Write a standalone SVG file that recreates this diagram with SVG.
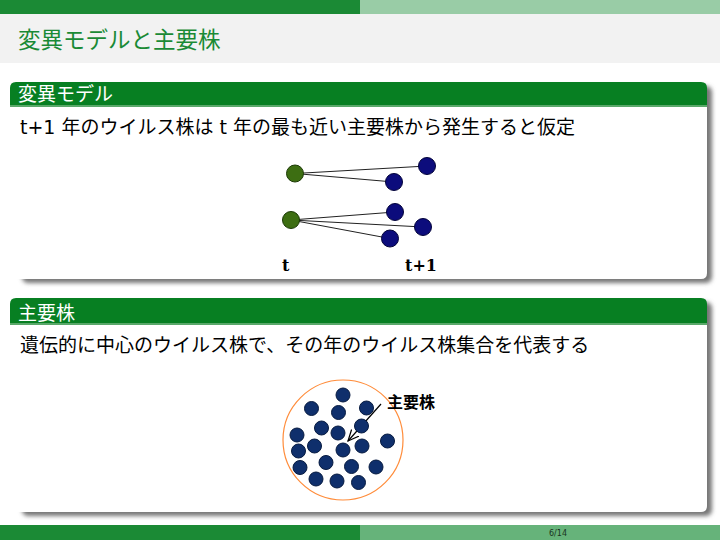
<svg xmlns="http://www.w3.org/2000/svg" width="720" height="540" viewBox="0 0 720 540">
<style>
.jp{font-family:"DejaVu Sans","Noto Sans CJK JP",sans-serif;}
.ttl{font-size:22.5px;fill:#1a8a35;}
.btl{font-size:19px;fill:#ffffff;}
.body{font-size:19px;fill:#000000;}
.lbl{font-family:"DejaVu Serif","Liberation Serif",serif;font-weight:bold;font-size:16px;fill:#000;}
.bar{fill:#077f22;}
.bodybox{fill:#ffffff;}
.shadow{fill:#777777;filter:url(#blur);}
.gnode{fill:#3d6e12;stroke:#1c3a06;stroke-width:1;}
.bnode{fill:#0c0c7c;stroke:#03033a;stroke-width:1;}
.dot{fill:#0f2f6c;stroke:#061a40;stroke-width:1;}
.edge{stroke:#222;stroke-width:1;fill:none;}
</style>
<defs>
<filter id="blur" x="-5%" y="-5%" width="110%" height="110%"><feGaussianBlur stdDeviation="2"/></filter>
<marker id="vhead" viewBox="0 0 12 12" refX="11" refY="6" markerWidth="12" markerHeight="12" markerUnits="userSpaceOnUse" orient="auto"><path d="M0,1 L11,6 L0,11" fill="none" stroke="#000" stroke-width="1.2"/></marker>
</defs>
<rect width="720" height="540" fill="#ffffff"/>
<!-- header -->
<g id="header">
<rect x="0" y="0" width="360" height="14" fill="#1b8a35"/>
<rect x="360" y="0" width="360" height="14" fill="#99cca6"/>
<rect x="0" y="14" width="720" height="49" fill="#f2f2f2"/>
<text class="jp ttl" x="18" y="48">変異モデルと主要株</text>
</g>
<!-- block 1 -->
<g id="block1">
<rect class="shadow" x="22" y="86" width="690" height="197" rx="6"/>
<path class="bar" d="M10,106 V88 Q10,82 16,82 H701 Q707,82 707,88 V106 Z"/>
<rect x="10" y="105" width="697" height="2" fill="#5aa86a"/>
<path class="bodybox" d="M10,107 H707 V273 Q707,279 701,279 H10 Z"/>
<text class="jp btl" x="18" y="101">変異モデル</text>
<text class="jp body" x="20" y="134">t+1 年のウイルス株は t 年の最も近い主要株から発生すると仮定</text>
</g>
<!-- block 2 -->
<g id="block2">
<rect class="shadow" x="22" y="302" width="690" height="214" rx="6"/>
<path class="bar" d="M10,324 V304 Q10,298 16,298 H701 Q707,298 707,304 V324 Z"/>
<rect x="10" y="323" width="697" height="2" fill="#5aa86a"/>
<path class="bodybox" d="M10,325 H707 V506 Q707,512 701,512 H10 Z"/>
<text class="jp btl" x="18" y="320">主要株</text>
<text class="jp body" x="20" y="352">遺伝的に中心のウイルス株で、その年のウイルス株集合を代表する</text>
</g>
<!-- connectors -->
<g id="connectors">
<line class="edge" x1="295" y1="173.5" x2="427" y2="166"/>
<line class="edge" x1="295" y1="173.5" x2="394" y2="182"/>
<line class="edge" x1="291" y1="220" x2="395" y2="212"/>
<line class="edge" x1="291" y1="220" x2="423" y2="227"/>
<line class="edge" x1="291" y1="220" x2="390" y2="238.5"/>
<line x1="381" y1="404" x2="348" y2="441" stroke="#000" stroke-width="1.2" marker-end="url(#vhead)"/>
</g>
<!-- model nodes -->
<g id="node-t-a"><circle class="gnode" cx="295" cy="173.5" r="8.5"/></g>
<g id="node-t-b"><circle class="gnode" cx="291" cy="220" r="8.5"/></g>
<g id="node-t1-a"><circle class="bnode" cx="427" cy="166" r="8.5"/></g>
<g id="node-t1-b"><circle class="bnode" cx="394" cy="182" r="8.5"/></g>
<g id="node-t1-c"><circle class="bnode" cx="395" cy="212" r="8.5"/></g>
<g id="node-t1-d"><circle class="bnode" cx="423" cy="227" r="8.5"/></g>
<g id="node-t1-e"><circle class="bnode" cx="390" cy="238.5" r="8.5"/></g>
<g id="labels-time">
<text class="lbl" x="282" y="271">t</text>
<text class="lbl" x="405" y="271">t+1</text>
</g>
<!-- cluster -->
<g id="cluster">
<circle cx="343" cy="440" r="60" fill="none" stroke="#ff8c3a" stroke-width="1.2"/>
<g>
<circle class="dot" cx="343" cy="395" r="7"/>
<circle class="dot" cx="311.5" cy="408.5" r="7"/>
<circle class="dot" cx="338.5" cy="412.5" r="7"/>
<circle class="dot" cx="366.5" cy="408" r="7"/>
<circle class="dot" cx="321.5" cy="428" r="7"/>
<circle class="dot" cx="338" cy="433" r="7"/>
<circle class="dot" cx="361.5" cy="426" r="7"/>
<circle class="dot" cx="297" cy="435" r="7"/>
<circle class="dot" cx="387.5" cy="441" r="7"/>
<circle class="dot" cx="298.5" cy="451" r="7"/>
<circle class="dot" cx="314.5" cy="446" r="7"/>
<circle class="dot" cx="343" cy="450" r="7"/>
<circle class="dot" cx="362" cy="446" r="7"/>
<circle class="dot" cx="300" cy="467.5" r="7"/>
<circle class="dot" cx="326" cy="462.5" r="7"/>
<circle class="dot" cx="351.5" cy="466.5" r="7"/>
<circle class="dot" cx="376" cy="467" r="7"/>
<circle class="dot" cx="316" cy="479" r="7"/>
<circle class="dot" cx="337" cy="481" r="7"/>
<circle class="dot" cx="358.5" cy="482.5" r="7"/>
</g>
</g>
<g id="label-main"><text class="jp" x="387" y="408" font-size="16" font-weight="bold" fill="#000">主要株</text></g>
<!-- footer -->
<g id="footer">
<rect x="0" y="525" width="360" height="15" fill="#1b8a35"/>
<rect x="360" y="525" width="360" height="15" fill="#66b37a"/>
<text x="558" y="535.5" font-family="DejaVu Sans, sans-serif" font-size="8" fill="#1a3320" text-anchor="middle">6/14</text>
</g>
</svg>
